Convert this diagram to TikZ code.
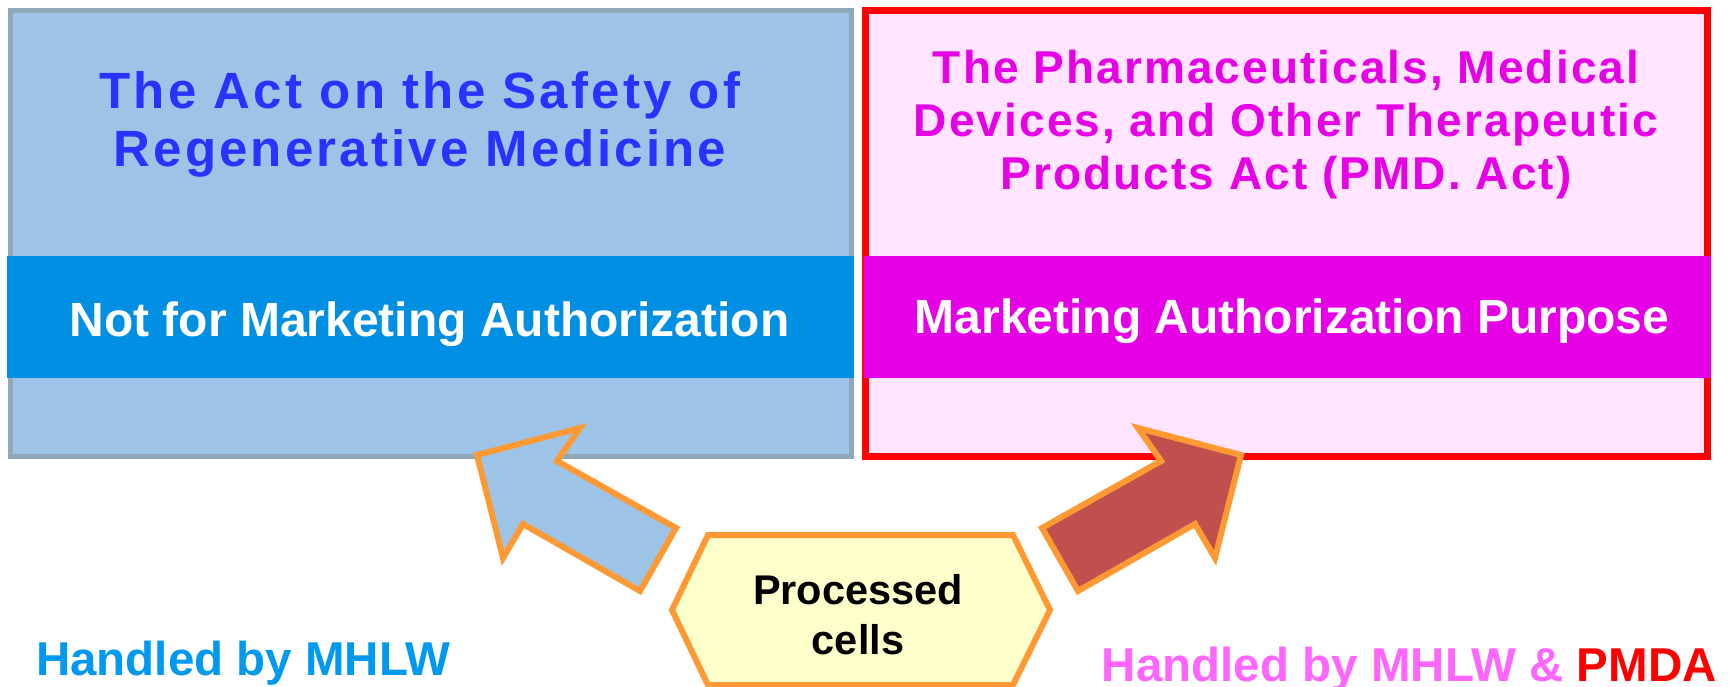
\documentclass[tikz,border=0pt]{standalone}
\usepackage{fontspec}
\setmainfont{Liberation Sans}
\newfontfamily\titlefont[LetterSpace=4.5]{Liberation Sans}
\newfontfamily\ltitlefont[LetterSpace=6.2]{Liberation Sans}
\definecolor{lboxfill}{HTML}{9DC3E6}
\definecolor{lboxline}{HTML}{8FA9BA}
\definecolor{rboxfill}{HTML}{FFE5FF}
\definecolor{rboxline}{HTML}{FF0000}
\definecolor{lband}{HTML}{008FE3}
\definecolor{rband}{HTML}{E600E6}
\definecolor{ltitle}{HTML}{2B32FF}
\definecolor{rtitle}{HTML}{E600E6}
\definecolor{orangeline}{HTML}{FF9933}
\definecolor{redarrow}{HTML}{C0504D}
\definecolor{hexfill}{HTML}{FFFFCC}
\definecolor{lhandled}{HTML}{0099F0}
\definecolor{rhandled}{HTML}{FF66FF}
\begin{document}
\begin{tikzpicture}[x=1pt,y=-1pt,
  lawbox/.style={rectangle, inner sep=0, outer sep=0},
  bandbox/.style={rectangle, inner sep=0, outer sep=0, minimum width=847, minimum height=122},
  bandtext/.style={inner sep=0, text=white, font=\bfseries\fontsize{48}{56}\selectfont},
  titletext/.style={inner sep=0, align=center, anchor=north},
  blockarrow/.style={draw=orangeline, line width=6, line join=miter, miter limit=10},
  handled/.style={inner sep=0, font=\bfseries\fontsize{47.5}{56}\selectfont}]
\useasboundingbox (0,0) rectangle (1729,687);
\fill[white] (0,0) rectangle (1729,687);
% law boxes
\node[lawbox, draw=lboxline, fill=lboxfill, line width=5, minimum width=841, minimum height=445] (lbox) at (430.5,233.5) {};
\node[lawbox, draw=rboxline, fill=rboxfill, line width=7, minimum width=842, minimum height=446] (rbox) at (1286.5,233.5) {};
% bands
\node[bandbox, fill=lband] (lbandn) at (430.5,317) {};
\node[bandbox, fill=rband] (rbandn) at (1287.5,316.5) {};
\node[bandtext, anchor=base] (lbandt) at (429.5,336) {Not for Marketing Authorization};
\node[bandtext, anchor=base] (rbandt) at (1292,333) {Marketing Authorization Purpose};
% titles
\node[titletext, text=ltitle, font=\ltitlefont\bfseries\fontsize{51}{58}\selectfont] (ltitlen) at (420,71)
  {The Act on the Safety of\\Regenerative Medicine};
\node[titletext, text=rtitle, font=\titlefont\bfseries\fontsize{46}{53}\selectfont] (rtitlen) at (1286,49.5)
  {The Pharmaceuticals, Medical\\Devices, and Other Therapeutic\\Products Act (PMD. Act)};
% block arrows
\draw[blockarrow, fill=lboxfill] (477,455) -- (580,428) -- (557,461) -- (676,528) -- (640,591) -- (523,524) -- (503,558) -- cycle;
\draw[blockarrow, fill=redarrow] (1241,455) -- (1138,428) -- (1161,461) -- (1042,528) -- (1078,591) -- (1195,524) -- (1215,558) -- cycle;
% hexagon
\draw[draw=orangeline, fill=hexfill, line width=6, line join=miter] (672,610) -- (708,535) -- (1013,535) -- (1050,610) -- (1013,685) -- (708,685) -- cycle;
\node[inner sep=0, align=center, font=\bfseries\fontsize{41.5}{50}\selectfont] (cells) at (858,615) {Processed\\cells};
% handled by
\node[handled, anchor=base west, text=lhandled] (lhand) at (36,675) {Handled by MHLW};
\node[handled, anchor=base east, text=rhandled] (rhand) at (1717,681) {Handled by MHLW \& \textcolor{rboxline}{PMDA}};
\end{tikzpicture}
\end{document}
